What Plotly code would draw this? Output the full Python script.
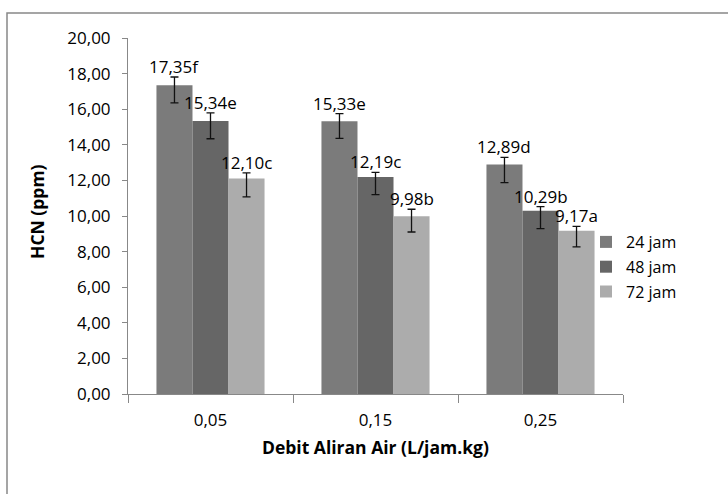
import plotly.graph_objects as go

categories = ["0,05", "0,15", "0,25"]
series_names = ["24 jam", "48 jam", "72 jam"]
v24 = [17.35, 15.33, 12.89]
v48 = [15.34, 12.19, 10.29]
v72 = [12.10, 9.98, 9.17]
lab24 = ["17,35f", "15,33e", "12,89d"]
lab48 = ["15,34e", "12,19c", "10,29b"]
lab72 = ["12,10c", "9,98b", "9,17a"]
ep24 = [0.46, 0.42, 0.40]
em24 = [1.00, 0.97, 1.02]
ep48 = [0.45, 0.26, 0.24]
em48 = [1.00, 0.99, 1.00]
ep72 = [0.32, 0.40, 0.25]
em72 = [1.02, 0.88, 0.91]
y_ticks = [0, 2, 4, 6, 8, 10, 12, 14, 16, 18, 20]

colors = ["#7b7b7b", "#666666", "#acacac"]
values = [v24, v48, v72]
labels = [lab24, lab48, lab72]
eps = [ep24, ep48, ep72]
ems = [em24, em48, em72]

FONT = "Open Sans"
bargap = 0.345
L, R, T, B = 128, 105, 38, 100
PW, PH = 728 - L - R, 494 - T - B

fig = go.Figure()
for k in range(3):
    fig.add_trace(go.Bar(
        x=categories, y=values[k], name=series_names[k],
        marker=dict(color=colors[k], line=dict(width=0)),
        legendgroup=series_names[k],
        error_y=dict(type="data", symmetric=False, array=eps[k], arrayminus=ems[k],
                     color="#111111", thickness=1.3, width=4),
    ))

bw = (1 - bargap) / 3
for k in range(3):
    off = (k - 1) * bw
    for i in range(3):
        fig.add_annotation(
            x=i + off, y=values[k][i] + eps[k][i], xref="x", yref="y",
            text=labels[k][i], showarrow=False, yanchor="bottom",
            yshift=-3, font=dict(family=FONT, size=17, color="#000000"),
        )

# axis titles
fig.add_annotation(
    x=(37 - L) / PW, y=(494 - B - 212) / PH, xref="paper", yref="paper",
    text="<b>HCN (ppm)</b>", textangle=-90, showarrow=False,
    xanchor="center", yanchor="middle", font=dict(family=FONT, size=17.5, color="#000000"),
)
fig.add_annotation(
    x=0.5, y=(494 - B - 447) / PH, xref="paper", yref="paper",
    text="<b>Debit Aliran Air (L/jam.kg)</b>", showarrow=False,
    xanchor="center", yanchor="middle", font=dict(family=FONT, size=17.5, color="#000000"),
)

# outer border
fig.add_shape(type="rect", xref="paper", yref="paper",
              x0=(7 - L) / PW, x1=(740 - L) / PW,
              y0=(494 - B - 510) / PH, y1=(494 - B - 13) / PH,
              line=dict(color="#888888", width=1.5), layer="below")

fig.update_layout(
    width=728, height=494,
    margin=dict(l=L, r=R, t=T, b=B, autoexpand=False),
    paper_bgcolor="white", plot_bgcolor="white",
    barmode="group", bargap=bargap, bargroupgap=0,
    separators=",.",
    font=dict(family=FONT, size=17, color="#000000"),
    showlegend=True,
    legend=dict(x=(586 - L) / PW, y=(494 - B - 267) / PH, xanchor="left", yanchor="middle",
                font=dict(family=FONT, size=16), tracegroupgap=1, itemwidth=30,
                bgcolor="rgba(0,0,0,0)"),
    xaxis=dict(
        type="category", tickson="boundaries", ticks="outside", ticklen=8,
        tickcolor="#888888", showline=True, linecolor="#888888", linewidth=1,
        showgrid=False, ticklabelstandoff=11, automargin=False,
        tickfont=dict(family=FONT, size=17),
    ),
    yaxis=dict(
        range=[0, 20], tickvals=y_ticks, tickformat=".2f", ticks="outside", ticklen=5,
        tickcolor="#888888", showline=True, linecolor="#888888", linewidth=1,
        showgrid=False, zeroline=False, ticklabelstandoff=8, automargin=False,
        tickfont=dict(family=FONT, size=17),
    ),
)

fig.write_html("out.html", config={"displayModeBar": False},
               post_script="document.body.style.margin='0px';document.body.style.overflow='hidden';")
